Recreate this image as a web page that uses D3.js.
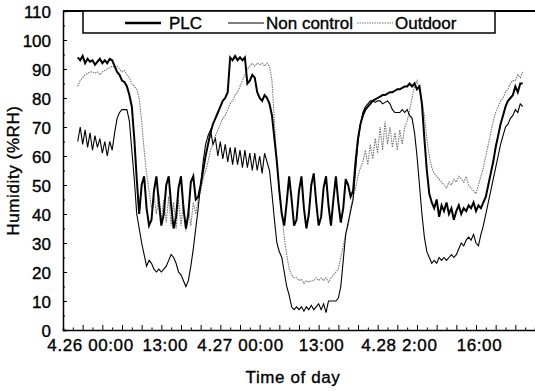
<!DOCTYPE html>
<html>
<head>
<meta charset="utf-8">
<script src="https://cdn.jsdelivr.net/npm/d3@7"></script>
<style>
  body { margin: 0; background: #fff; }
  text { font-family: "Liberation Sans", Arial, sans-serif; fill: #000; stroke: #000; stroke-width: 0.35px; }
  .tick text { font-size: 17px; }
  .label { font-size: 17px; }
</style>
</head>
<body>
<div id="chart"></div>
<script>
// readings every half hour, first one at hour 3 of the axis
var startHour = 3;
var stepHour = 0.5;

var plc = [
  94, 93, 94.5, 92, 93.5, 92.5, 93, 91.5, 92.5, 93.5,
  92, 93, 92, 93.5, 93, 91, 89, 88, 86, 85.5,
  84, 81, 77, 66, 52, 40, 50, 53, 42, 36,
  38, 48, 53, 44, 36, 40, 50, 53, 43, 35,
  39, 49, 53, 42, 35, 40, 51, 53, 45, 46,
  50, 55, 60, 64, 68, 71, 73, 75, 77, 79,
  80, 82, 94, 93, 94.5, 93, 94, 93, 94, 85,
  86, 88, 87, 82, 80, 79, 81, 80, 78, 74,
  66, 58, 48, 40, 36, 44, 53, 45, 36, 38,
  48, 53, 42, 35, 40, 50, 54, 44, 36, 39,
  49, 53, 43, 36, 45, 53, 44, 37, 42, 52,
  50, 46, 48, 58, 66, 71, 74, 76, 77, 78,
  79, 79.5, 80, 80.5, 81, 81, 81.5, 82, 82, 82.5,
  83, 83, 83.5, 84, 84, 85, 84, 85, 83, 84,
  78, 66, 55, 47, 44, 42, 45, 39, 43, 41,
  44, 40, 42, 38, 41, 43, 40, 42, 41, 43,
  42, 44, 41, 43, 42, 44, 46, 50, 54, 58,
  63, 67, 71, 74, 77, 79, 80, 81, 84, 82,
  85, 85
];

var nonControl = [
  65, 70, 64, 69, 63, 68, 62, 67, 63, 66,
  61, 65, 60, 65, 62, 68, 73, 75, 76, 76,
  76, 72, 62, 52, 40, 35, 30, 26, 22, 24,
  23, 21, 20, 21, 20, 21, 22, 24, 26, 25,
  23, 20, 19, 17, 15, 17, 22, 28, 35, 42,
  50, 58, 64, 67, 69, 64, 66, 60, 65, 59,
  64, 58, 63, 57, 63, 57, 62, 56, 62, 56,
  61, 55, 61, 55, 60, 54, 61, 58, 55, 47,
  38, 30, 27, 25, 20, 15, 12, 8, 7, 8,
  7, 8, 6.5, 8, 7, 8.5, 7, 8, 9, 7,
  9, 6, 10, 10, 10, 10, 11, 15, 24, 33,
  37, 41, 45, 55, 65, 71, 75, 77, 78, 79,
  79, 78.5, 79, 79, 78, 78.5, 79, 78, 76, 75,
  75, 75, 76, 75, 76, 74, 73, 68, 60, 50,
  40, 32, 27, 25, 23, 24, 23, 25, 24, 25,
  24, 25, 26, 25, 26, 28, 30, 29, 31, 32,
  31, 33, 30, 29, 33, 36, 40, 44, 48, 52,
  56, 60, 64, 67, 70, 71, 73, 74, 76, 75,
  78, 77
];

var outdoor = [
  84, 86, 87, 88, 88.5, 89, 89, 88.5, 89, 88,
  89, 89.5, 90, 90.5, 91, 90.5, 91, 90, 89, 89.5,
  88, 87, 85, 84, 83, 80, 72, 62, 54, 48,
  42, 46, 40, 47, 38, 45, 37, 46, 36, 44,
  35, 45, 36, 44, 34, 42, 36, 44, 40, 45,
  48, 52, 55, 58, 62, 64, 67, 69, 71, 73,
  74, 76, 78, 79, 81, 82, 84, 86, 88, 90,
  91, 92, 91, 92, 91.5, 92, 91, 92, 91, 86,
  72, 58, 48, 40, 32, 26, 21, 19, 18, 18,
  17, 17.5, 16, 17, 16.5, 17, 17, 18, 17, 18,
  17, 18, 16.5, 18, 19, 20, 21, 25, 29, 33,
  36, 42, 46, 49, 53, 56, 58, 62, 57, 64,
  59, 66, 61, 70, 62, 72, 64, 70, 63, 68,
  62, 69, 64, 70, 72, 76, 80, 84, 86, 83,
  79, 74, 66, 60, 56, 54, 53, 52, 51, 50,
  49, 51, 50, 52, 51, 53, 52, 51, 53, 50,
  49, 48, 47, 50, 53, 56, 60, 64, 68, 72,
  75, 77, 79, 80, 82, 83, 85, 86, 86, 88,
  87, 89
];

// x tick labels and where they sit on the hour axis
var timeLabels = ["4.26 00:00", "13:00", "4.27 00:00", "13:00", "4.28 2:00", "16:00"];
var timeLabelHours = [5.5, 20.7, 36, 52.5, 68.3, 84.6];
var humidityTicks = [0, 10, 20, 30, 40, 50, 60, 70, 80, 90, 100, 110];

var seriesNames = ["PLC", "Non control", "Outdoor"];

//setup spacing size
var svg_w = 535;
var svg_h = 391;
var margin = {top: 11, right: 0, bottom: 61, left: 63};
var width = svg_w - margin.left - margin.right;
var height = svg_h - margin.top - margin.bottom;

var svg = d3.select("#chart")
  .append("svg")
  .attr("width", svg_w)
  .attr("height", svg_h);

svg.append("rect")
  .attr("width", svg_w)
  .attr("height", svg_h)
  .attr("fill", "#fff");

var g = svg.append("g")
  .attr("transform", "translate(" + margin.left + "," + margin.top + ")");

//scales
var xScale = d3.scaleLinear().domain([0, 96]).range([0, width]);
var yScale = d3.scaleLinear().domain([0, 110]).range([height, 0]);

//x axis: small inward ticks, tick labels placed on their own
g.append("g")
  .attr("transform", "translate(0," + height + ")")
  .call(d3.axisBottom(xScale).tickValues(d3.range(0, 97, 2)).tickSize(-2.5).tickFormat(""))
  .call(function(a) {
    a.select(".domain").attr("stroke-width", 1.5);
    a.selectAll(".tick line").filter(function(d) { return d % 4 === 0; }).attr("y2", -5);
  });

g.append("g")
  .attr("transform", "translate(0," + height + ")")
  .call(d3.axisBottom(xScale).tickValues(timeLabelHours).tickSize(0).tickPadding(9)
    .tickFormat(function(d, i) { return timeLabels[i]; }))
  .call(function(a) {
    a.select(".domain").remove();
    a.selectAll("text").attr("letter-spacing", "0.6px");
  });

//y axis
g.append("g")
  .call(d3.axisLeft(yScale).tickValues(humidityTicks).tickSize(-4).tickPadding(12))
  .call(function(a) {
    a.select(".domain").attr("stroke-width", 1.5);
    a.selectAll("text").attr("dy", "0.36em");
  });

g.append("g")
  .call(d3.axisLeft(yScale).tickValues(d3.range(5, 110, 10)).tickSize(-2).tickFormat(""))
  .select(".domain").remove();

//top border
g.append("line")
  .attr("x1", 0).attr("x2", width)
  .attr("y1", 0).attr("y2", 0)
  .attr("stroke", "#000")
  .attr("stroke-width", 2);

//lines
function makeLine(values) {
  return d3.line()
    .x(function(d, i) { return xScale(startHour + i * stepHour); })
    .y(function(d) { return yScale(d); })(values);
}

g.append("path")
  .attr("d", makeLine(outdoor))
  .attr("fill", "none")
  .attr("stroke", "#777")
  .attr("stroke-width", 1.1)
  .attr("stroke-dasharray", "1.5,1");

g.append("path")
  .attr("d", makeLine(nonControl))
  .attr("fill", "none")
  .attr("stroke", "#000")
  .attr("stroke-width", 1.1);

g.append("path")
  .attr("d", makeLine(plc))
  .attr("fill", "none")
  .attr("stroke", "#000")
  .attr("stroke-width", 2);

//legend box
var legend = svg.append("g");
legend.append("rect")
  .attr("x", 83).attr("y", 11)
  .attr("width", 412).attr("height", 22)
  .attr("fill", "#fff")
  .attr("stroke", "#000")
  .attr("stroke-width", 1.5);

var legendItems = [
  {name: seriesNames[0], x: 125, stroke: "#000", w: 2.5, dash: null},
  {name: seriesNames[1], x: 228, stroke: "#000", w: 1, dash: null},
  {name: seriesNames[2], x: 357, stroke: "#777", w: 1, dash: "1.5,1"}
];

var item = legend.selectAll(".legend")
  .data(legendItems)
  .enter()
  .append("g")
  .attr("class", "legend")
  .attr("transform", function(d) { return "translate(" + d.x + ",23)"; });

item.append("line")
  .attr("x1", 0).attr("x2", 36)
  .attr("stroke", function(d) { return d.stroke; })
  .attr("stroke-width", function(d) { return d.w; })
  .attr("stroke-dasharray", function(d) { return d.dash; });

item.append("text")
  .attr("x", function(d, i) { return i === 0 ? 44 : 38; })
  .attr("dy", "0.36em")
  .attr("class", "label")
  .text(function(d) { return d.name; });

//axis titles
svg.append("text")
  .attr("transform", "translate(19," + (margin.top + height / 2) + ") rotate(-90)")
  .attr("text-anchor", "middle")
  .attr("class", "label")
  .attr("letter-spacing", "0.6px")
  .text("Humidity (%RH)");

svg.append("text")
  .attr("x", 293)
  .attr("y", 383)
  .attr("text-anchor", "middle")
  .attr("class", "label")
  .attr("letter-spacing", "0.6px")
  .text("Time of day");
</script>
</body>
</html>
